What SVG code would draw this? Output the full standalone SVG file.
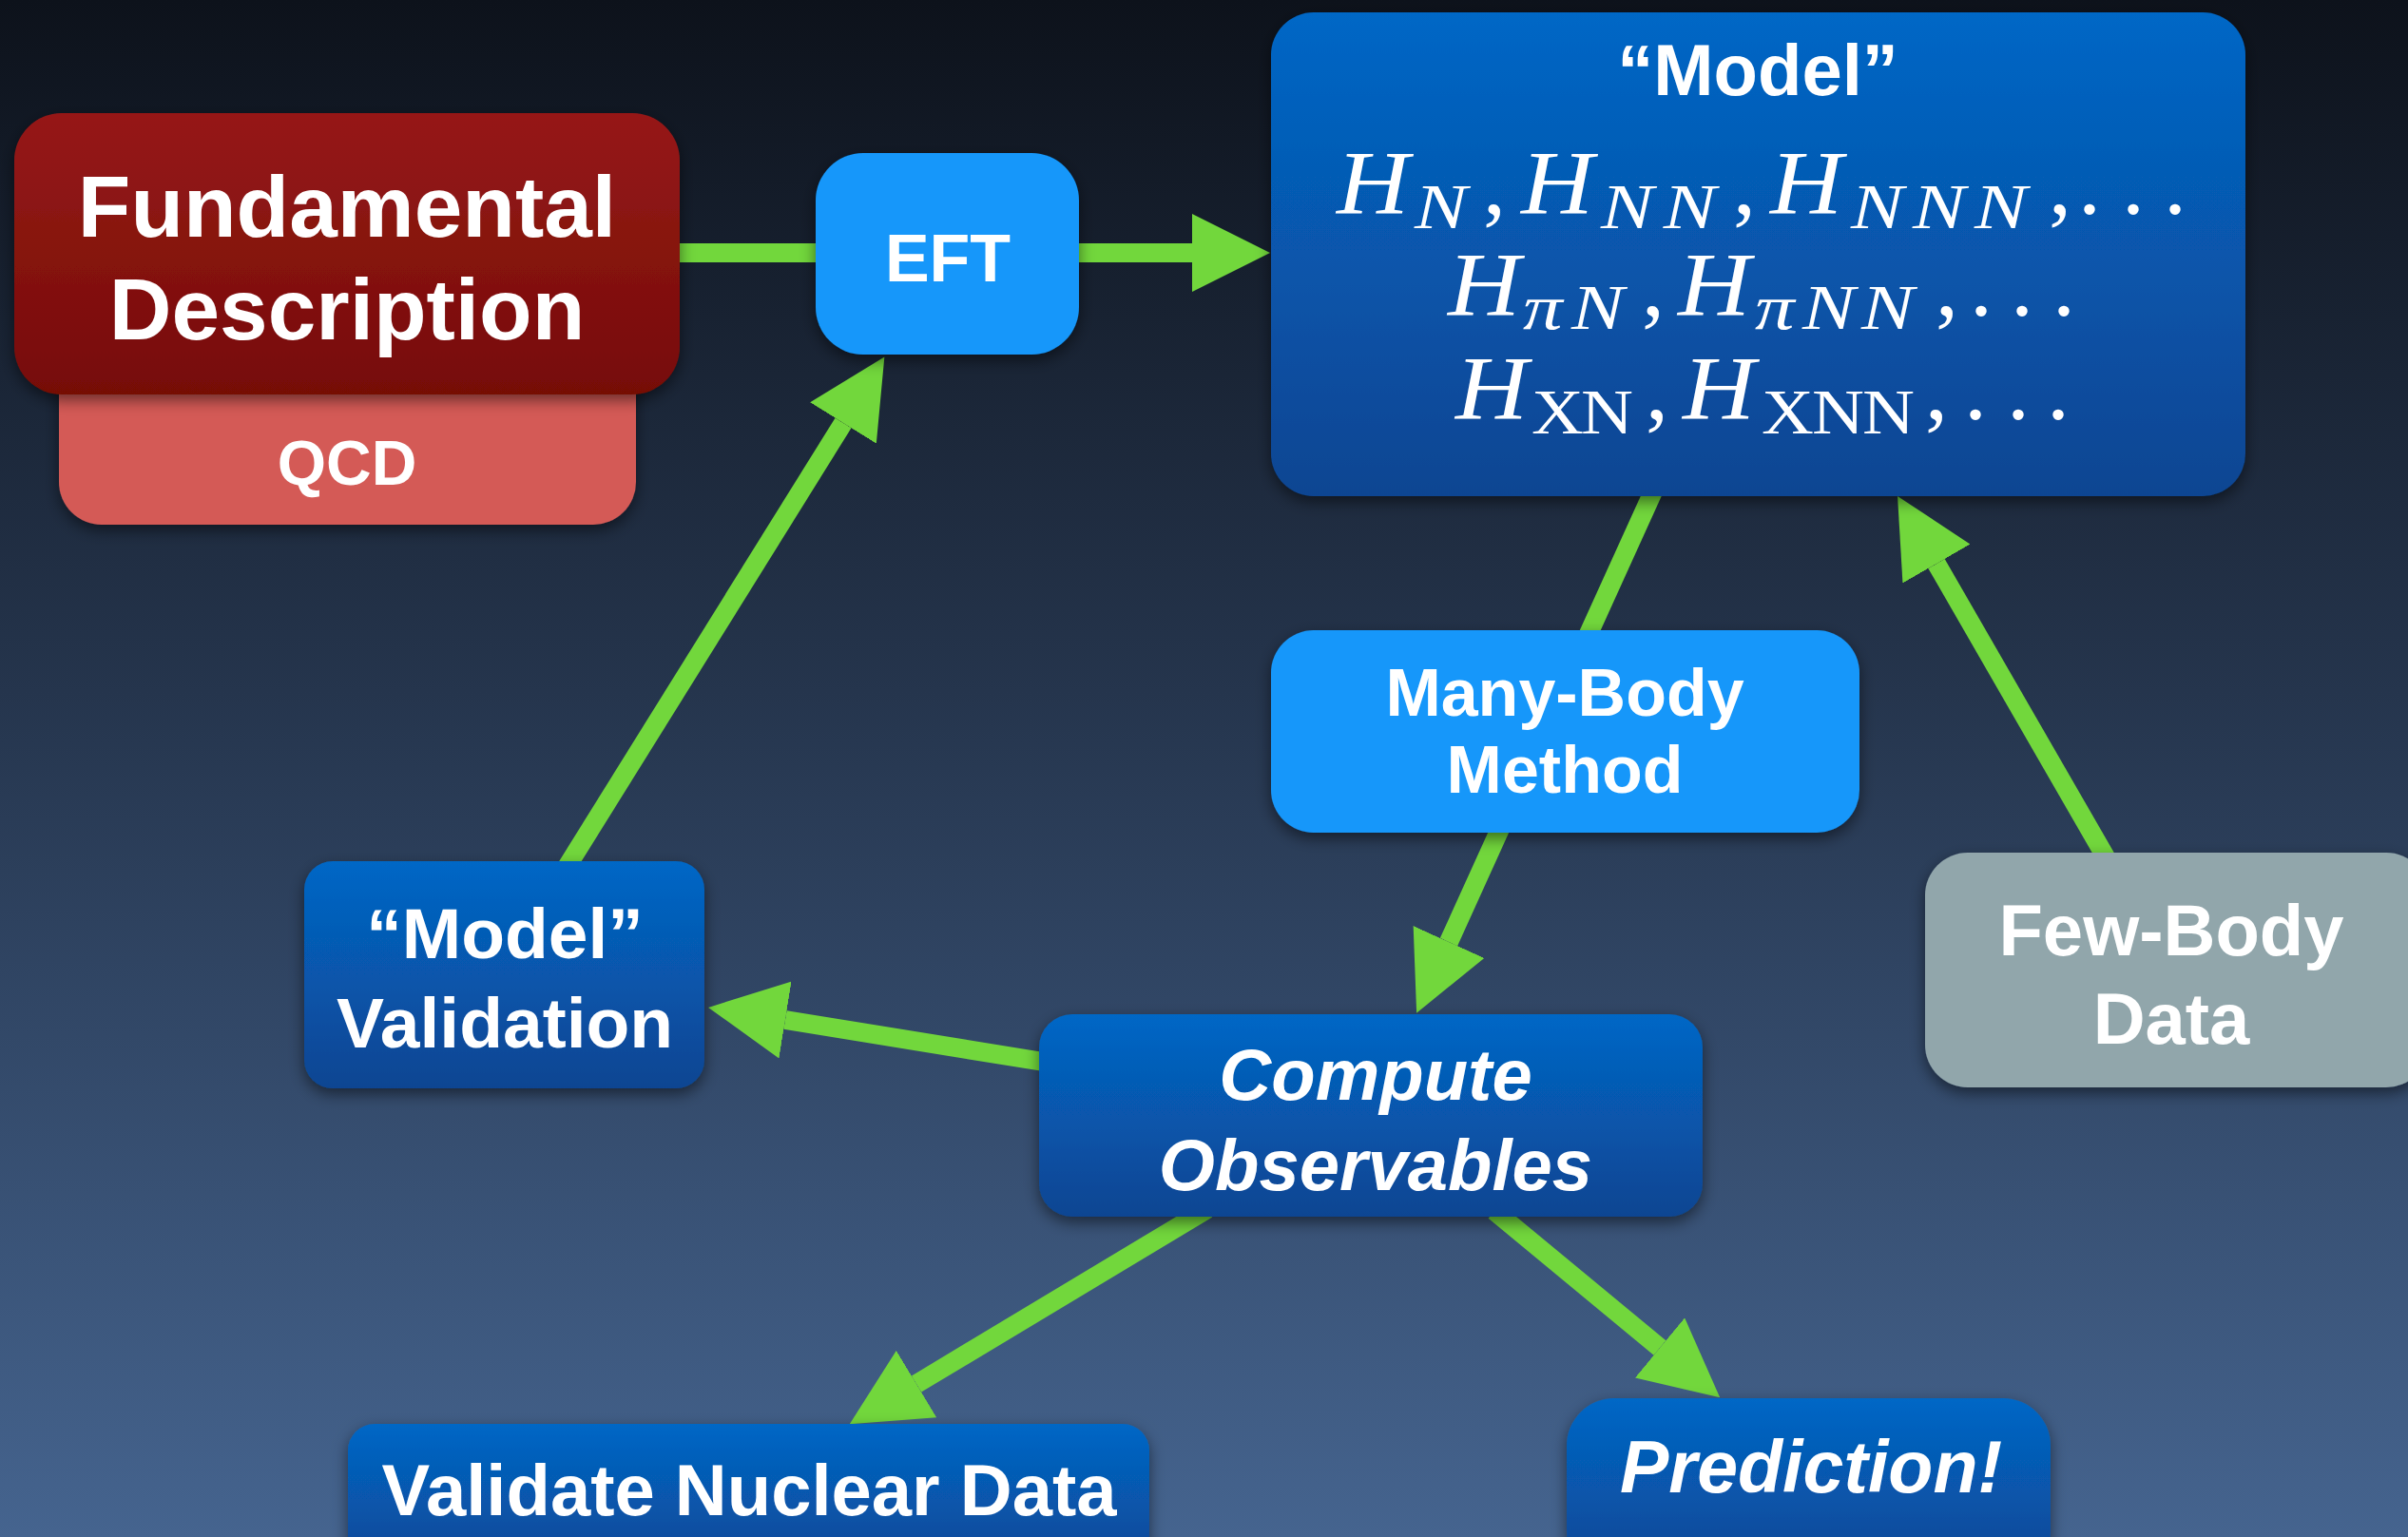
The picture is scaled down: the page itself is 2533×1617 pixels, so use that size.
<svg xmlns="http://www.w3.org/2000/svg" width="2533" height="1617" viewBox="0 0 2533 1617">
<defs>
<linearGradient id="bg" x1="0" y1="0" x2="0" y2="1">
<stop offset="0" stop-color="#0d121b"/>
<stop offset="0.45" stop-color="#25354d"/>
<stop offset="1" stop-color="#45648f"/>
</linearGradient>
<linearGradient id="blue" x1="0" y1="0" x2="0" y2="1">
<stop offset="0" stop-color="#0467c6"/>
<stop offset="1" stop-color="#0a4592"/>
</linearGradient>
<linearGradient id="red" x1="0" y1="0" x2="0" y2="1">
<stop offset="0" stop-color="#961918"/>
<stop offset="1" stop-color="#760c06"/>
</linearGradient>
<filter id="sh" x="-10%" y="-15%" width="120%" height="140%">
<feDropShadow dx="0" dy="6" stdDeviation="8" flood-color="#000" flood-opacity="0.5"/>
</filter>
<marker id="ah" markerUnits="userSpaceOnUse" viewBox="0 0 82 82" refX="0" refY="41" markerWidth="82" markerHeight="82" orient="auto">
<path d="M0,0 L82,41 L0,82 z" fill="#72d73c"/>
</marker>
<style>
.lbl{font-family:"Liberation Sans",Arial,sans-serif;font-weight:bold;fill:#fff;text-anchor:middle}
.it{font-style:italic}
.m{font-family:"Liberation Serif","Times New Roman",serif;font-style:italic;fill:#fff;font-size:96px}
.sub{font-size:68px}
.rm{font-style:normal}
.conn path{fill:none;stroke:#72d73c;stroke-width:20;marker-end:url(#ah)}
.bx{filter:url(#sh)}
</style>
</defs>
<rect x="0" y="0" width="2533" height="1617" fill="url(#bg)"/>

<g id="connectors" class="conn">
<path d="M700,266 L1254,266"/>
<path d="M590,922 L887,445"/>
<path d="M1749,495 L1524,991"/>
<path d="M1110,1119 L826,1073"/>
<path d="M1270,1272 L964,1456"/>
<path d="M1572,1274 L1746,1418"/>
<path d="M2218,907 L2037,593"/>
</g>

<g id="qcd">
<rect class="bx" x="62" y="360" width="607" height="192" rx="45" fill="#d45a56"/>
<text class="lbl" x="365" y="510" font-size="66">QCD</text>
</g>

<g id="fundamental">
<rect class="bx" x="15" y="119" width="700" height="296" rx="50" fill="url(#red)"/>
<text class="lbl" x="365" y="249" font-size="91">Fundamental</text>
<text class="lbl" x="365" y="357" font-size="91">Description</text>
</g>

<g id="eft">
<rect class="bx" x="858" y="161" width="277" height="212" rx="50" fill="#1597fa"/>
<text class="lbl" x="997" y="296" font-size="70">EFT</text>
</g>

<g id="model">
<rect class="bx" x="1337" y="13" width="1025" height="509" rx="45" fill="url(#blue)"/>
<text class="lbl" x="1849" y="100" font-size="76">“Model”</text>
<text class="m" transform="translate(1406,225) scale(1.1,1)">H</text>
<text class="m sub" transform="translate(1488,240) scale(1.22,1)">N</text>
<text class="m rm" x="1560" y="225">,</text>
<text class="m" transform="translate(1600,225) scale(1.1,1)">H</text>
<text class="m sub" transform="translate(1684,240) scale(1.22,1)" x="0 54">NN</text>
<text class="m rm" x="1823" y="225">,</text>
<text class="m" transform="translate(1862,225) scale(1.1,1)">H</text>
<text class="m sub" transform="translate(1947,240) scale(1.22,1)" x="0 53.3 106.6">NNN</text>
<text class="m rm" x="2155" y="225">,</text>
<text class="m rm" x="2186 2232 2276" y="225">...</text>

<text class="m" transform="translate(1523,332) scale(1.1,1)">H</text>
<text class="m sub" transform="translate(1602,346) scale(1.22,1)" x="0 41.8">πN</text>
<text class="m rm" x="1727" y="332">,</text>
<text class="m" transform="translate(1765,332) scale(1.1,1)">H</text>
<text class="m sub" transform="translate(1846,346) scale(1.22,1)" x="0 41 91.8">πNN</text>
<text class="m rm" x="2036" y="332">,</text>
<text class="m rm" x="2072 2115 2159" y="332">...</text>

<text class="m" transform="translate(1531,441) scale(1.1,1)">H</text>
<text class="m sub rm" transform="translate(1611,456) scale(1.12,1)" x="0 46.4">XN</text>
<text class="m rm" x="1731" y="441">,</text>
<text class="m" transform="translate(1770,441) scale(1.1,1)">H</text>
<text class="m sub rm" transform="translate(1853,456) scale(1.12,1)" x="0 47.3 94.6">XNN</text>
<text class="m rm" x="2025" y="441">,</text>
<text class="m rm" x="2066 2111 2153" y="441">...</text>
</g>

<g id="many-body">
<rect class="bx" x="1337" y="663" width="619" height="213" rx="45" fill="#1597fa"/>
<text class="lbl" x="1646" y="753" font-size="70">Many-Body</text>
<text class="lbl" x="1646" y="834" font-size="70">Method</text>
</g>

<g id="model-validation">
<rect class="bx" x="320" y="906" width="421" height="239" rx="30" fill="url(#blue)"/>
<text class="lbl" x="531" y="1008" font-size="75">“Model”</text>
<text class="lbl" x="531" y="1102" font-size="75">Validation</text>
</g>

<g id="compute">
<rect class="bx" x="1093" y="1067" width="698" height="213" rx="35" fill="url(#blue)"/>
<text class="lbl it" x="1447" y="1157" font-size="76">Compute</text>
<text class="lbl it" x="1447" y="1252" font-size="76">Observables</text>
</g>

<g id="few-body">
<rect class="bx" x="2025" y="897" width="530" height="247" rx="45" fill="#91a6ab"/>
<text class="lbl" x="2284" y="1005" font-size="76">Few-Body</text>
<text class="lbl" x="2284" y="1098" font-size="76">Data</text>
</g>

<g id="validate-nuclear-data">
<rect class="bx" x="366" y="1498" width="843" height="160" rx="28" fill="url(#blue)"/>
<text class="lbl" x="788" y="1594" font-size="76">Validate Nuclear Data</text>
</g>

<g id="prediction">
<rect class="bx" x="1648" y="1471" width="509" height="190" rx="50" fill="url(#blue)"/>
<text class="lbl it" x="1905" y="1570" font-size="77">Prediction!</text>
</g>
</svg>
